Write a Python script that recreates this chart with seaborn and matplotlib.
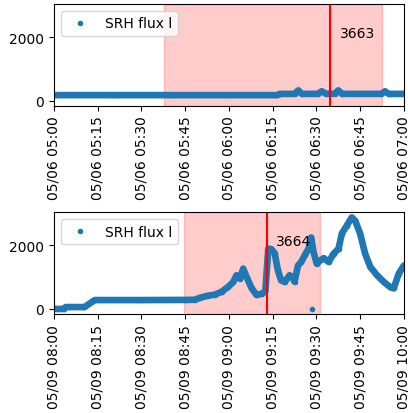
import numpy as np
import pandas as pd
import matplotlib
matplotlib.use('Agg')
import matplotlib.pyplot as plt
import matplotlib.dates as mdates
import seaborn as sns

# panel 1: 2015-05-06 05:00 - 07:00 (minutes after 05:00)
top_min = [0, 20, 40, 60, 76.5, 77.5, 82.5, 83.8, 85, 90.5, 91.8, 93.3, 96.3, 97.5, 98.8, 112.3, 113.5, 114.8, 120]
top_val = [170, 170, 170, 170, 170, 210, 210, 320, 210, 210, 290, 215, 215, 320, 210, 210, 290, 210, 210]
top_span = [37.8, 112.6]
top_peak = 94.7
top_label = '3663'

# panel 2: 2015-05-09 08:00 - 10:00 (minutes after 08:00)
bot_min = [0, 3.5, 4, 10.5, 14, 30, 45, 48.3, 50, 52.9, 55.2, 57.5, 59.8, 61.5, 62.6, 63.8,
           64.9, 66.1, 67.8, 69.5, 71.2, 72.5, 73.5, 74.6, 75.7, 76.8, 77.9, 79.1, 80.8, 82.0,
           82.5, 83.7, 84.8, 86.0, 87.3, 88.2, 89.0, 90.1, 91.4, 92.5, 94.2, 95.9, 97.6, 98.7,
           100.4, 102.1, 103.3, 105.0, 106.7, 108.5, 110.8, 113.1, 115.4, 116.5, 118.2, 120]
bot_val = [0, 0, 60, 60, 280, 280, 285, 290, 350, 420, 450, 540, 700, 850, 1060, 950,
           1270, 1000, 650, 440, 480, 560, 1900, 1880, 1750, 1220, 900, 850, 1060, 960,
           860, 1370, 1480, 1690, 1900, 2250, 1800, 1430, 1530, 1600, 1480, 1740, 1900, 2370,
           2620, 2880, 2780, 2370, 1740, 1320, 1060, 850, 680, 650, 1110, 1370]
bot_out_min = [88.6]
bot_out_val = [0]
bot_span = [44.7, 91.4]
bot_peak = 72.9
bot_label = '3664'

panels = [
    (pd.Timestamp('2015-05-06 05:00'), top_min, top_val, [], [], top_span, top_peak, top_label),
    (pd.Timestamp('2015-05-09 08:00'), bot_min, bot_val, bot_out_min, bot_out_val, bot_span, bot_peak, bot_label),
]

fig, axes = plt.subplots(2, 1, figsize=(4.08, 4.14), dpi=100)
fig.subplots_adjust(left=0.132, right=0.99, top=0.988, bottom=0.239, hspace=1.05)

for ax, (t0, mins, vals, omins, ovals, span, peak, lab) in zip(axes, panels):
    tm = lambda m: t0 + pd.to_timedelta(np.asarray(m, dtype=float), unit='min')
    df = pd.DataFrame({'time': tm(mins), 'flux': vals})
    pts = pd.DataFrame({'time': tm(list(mins) + list(omins)), 'flux': list(vals) + list(ovals)})

    ax.axvspan(tm([span[0]])[0], tm([span[1]])[0], color='red', alpha=0.2)
    sns.lineplot(data=df, x='time', y='flux', ax=ax, color='#1f77b4', lw=4.8,
                 solid_capstyle='round', solid_joinstyle='round', legend=False)
    # points drawn as '.' markers (gives the dot legend handle)
    sns.lineplot(data=pts, x='time', y='flux', ax=ax, color='#1f77b4', linestyle='',
                 marker='.', markersize=6, mec='#1f77b4', mew=1.0, label='SRH flux l')
    pk = tm([peak])[0]
    ax.axvline(pk, color='red', lw=1.5)
    ax.text(pk + pd.Timedelta(minutes=3.3), 2000, lab, fontsize=10)

    ax.set_xlim(t0, t0 + pd.Timedelta(hours=2))
    ax.set_ylim(-160, 3040)
    ax.set_yticks([0, 2000])
    ax.xaxis.set_major_locator(mdates.MinuteLocator(byminute=[0, 15, 30, 45]))
    ax.xaxis.set_major_formatter(mdates.DateFormatter('%m/%d %H:%M'))
    ax.tick_params(axis='x', labelrotation=90)
    ax.set_xlabel('')
    ax.set_ylabel('')
    ax.legend(loc='upper left')

fig.savefig('out.png', dpi=100)
